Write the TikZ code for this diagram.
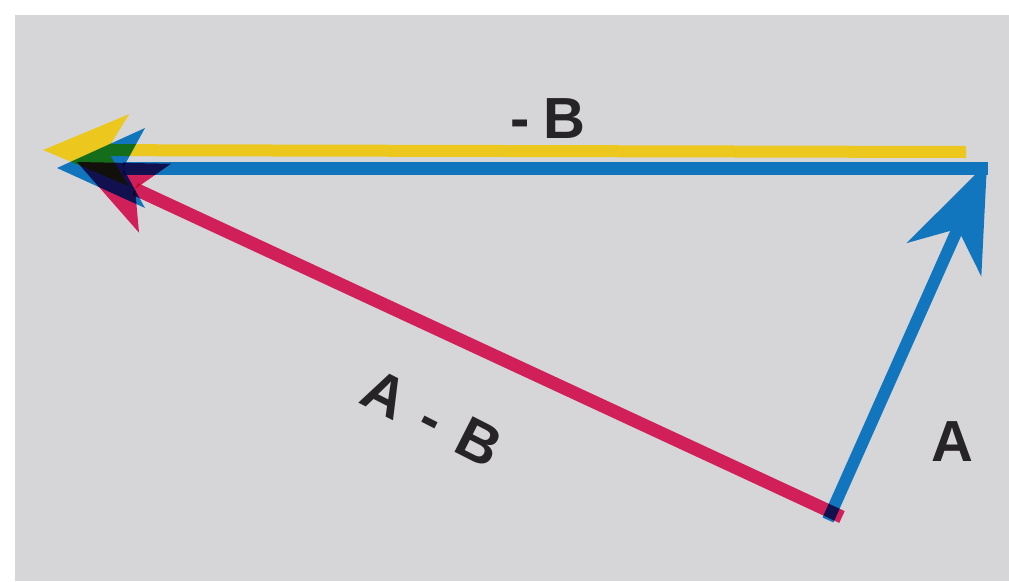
\documentclass[tikz,border=0pt]{standalone}
\usepackage{fontspec}
\setmainfont{Liberation Sans}
\usetikzlibrary{arrows.meta}
\definecolor{paper}{RGB}{214,214,217}
\definecolor{ink}{RGB}{38,36,38}
\definecolor{cy}{RGB}{18,118,190}
\definecolor{cym}{RGB}{21,140,224}
\definecolor{ye}{RGB}{236,200,30}
\definecolor{mgm}{RGB}{250,38,106}
\tikzset{
  vec/.style={line width=#1},
  mult/.style={blend mode=multiply},
  lbl/.style={text=ink, font=\bfseries\fontsize{58}{60}\selectfont, inner sep=0pt},
}
\begin{document}
\begin{tikzpicture}[x=1pt,y=-1pt]
\useasboundingbox (0,0) rectangle (1009,581);
\fill[white] (0,0) rectangle (1009,581);
\fill[paper] (15,15) rectangle (1009,581);
% points
\coordinate (yR) at (966,152);
\coordinate (yL) at (43,150);
\coordinate (bR) at (988,168);
\coordinate (bL) at (57,168);
\coordinate (aT) at (828,520);
\coordinate (aH) at (987,163);
\coordinate (mT) at (842,517);
\coordinate (mH) at (77,162);
% -B : yellow and cyan plates, slightly misregistered
\draw[vec=12pt, ye, -{Stealth[length=86pt,width=72pt,inset=22pt,line width=0pt]}] (yR) -- (yL);
\draw[vec=13pt, cym, mult, -{Stealth[length=88pt,width=80pt,inset=22pt,line width=0pt]}] (bR) -- (bL);
% A
\draw[vec=12pt, cy, -{Stealth[length=106pt,width=82pt,inset=34pt,line width=0pt]}] (aT) -- (aH);
% A - B
\draw[vec=13pt, mgm, mult, -{Stealth[length=86pt,width=76pt,inset=22pt,line width=0pt]}] (mT) -- (mH);
% labels
\node[lbl] (lb) at (548,119) {-\hspace{14pt}B};
\node[lbl, rotate=-27] (lab) at (432,418) {A\hspace{22pt}-\hspace{22pt}B};
\node[lbl] (la) at (952,442) {A};
\end{tikzpicture}
\end{document}
